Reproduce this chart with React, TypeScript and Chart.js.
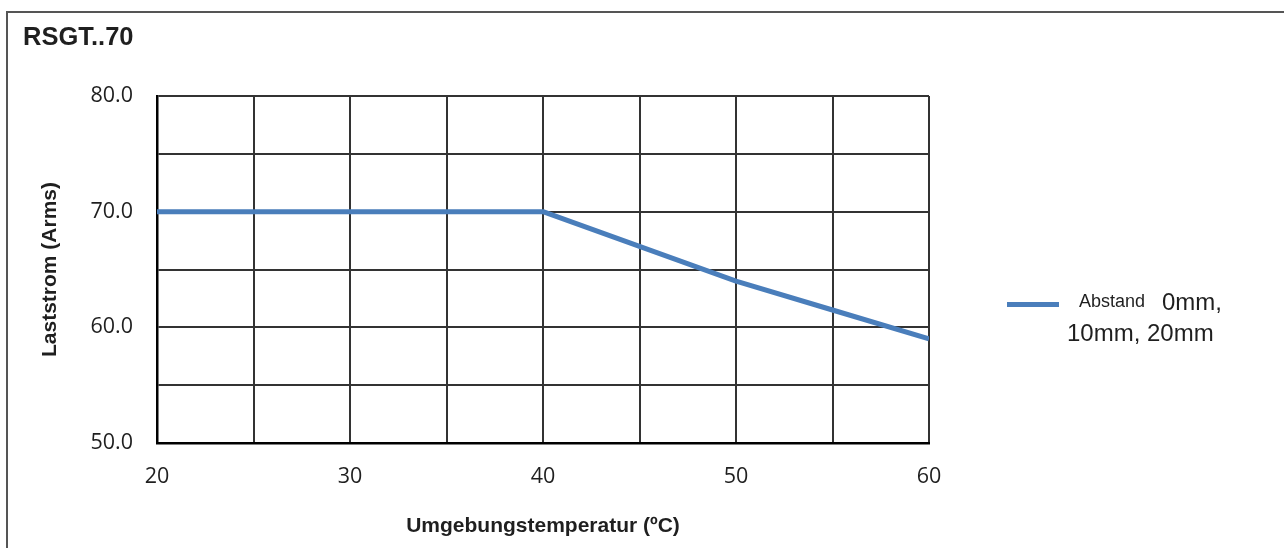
import React, { useEffect, useRef } from "react";
import { Chart, registerables } from "chart.js";

Chart.register(...registerables);

const chartTitle = "RSGT..70";
const xAxisTitle = "Umgebungstemperatur (ºC)";
const yAxisTitle = "Laststrom (Arms)";
const legendSmall = "Abstand";
const legendLine1 = "0mm,";
const legendLine2 = "10mm, 20mm";

const temperatures = [20, 25, 30, 35, 40, 45, 50, 55, 60];
const loadCurrent = [70, 70, 70, 70, 70, 67, 64, 61.5, 59];

const xMin = 20;
const xMax = 60;
const yMin = 50;
const yMax = 80;

const lineColor = "#4a7ebb";
const textColor = "#1f1f1f";
const sansBold = "'Liberation Sans', Arial, sans-serif";
const tickFamily = "'Open Sans', sans-serif";

export default function App() {
  const canvasRef = useRef<HTMLCanvasElement | null>(null);

  useEffect(() => {
    const canvas = canvasRef.current;
    if (!canvas) return;
    const chart = new Chart(canvas, {
      type: "line",
      data: {
        datasets: [
          {
            label: legendSmall + " " + legendLine1 + " " + legendLine2,
            data: temperatures.map((t, i) => ({ x: t, y: loadCurrent[i] })),
            borderColor: lineColor,
            backgroundColor: lineColor,
            borderWidth: 5,
            pointRadius: 0,
            tension: 0,
            borderCapStyle: "butt",
            borderJoinStyle: "round",
          },
        ],
      },
      options: {
        responsive: false,
        animation: false,
        devicePixelRatio: 1,
        layout: { padding: { top: 96, right: 355, bottom: 0, left: 0 } },
        plugins: {
          legend: { display: false },
          tooltip: { enabled: false },
          title: { display: false },
        },
        scales: {
          x: {
            type: "linear",
            min: xMin,
            max: xMax,
            afterFit: (scale: any) => {
              scale.height = 105;
            },
            grid: { color: "#333", lineWidth: 2, drawTicks: false },
            border: { display: true, color: "#000", width: 2.5 },
            ticks: {
              stepSize: 5,
              autoSkip: false,
              maxRotation: 0,
              padding: 21,
              color: textColor,
              font: { family: tickFamily, size: 21.5 },
              callback: (v: any) => (Number(v) % 10 === 0 ? String(v) : ""),
            },
            title: {
              display: true,
              text: xAxisTitle,
              color: textColor,
              font: { family: sansBold, size: 21, weight: "bold" },
              padding: { top: 0, bottom: 9 },
            },
          },
          y: {
            type: "linear",
            min: yMin,
            max: yMax,
            afterFit: (scale: any) => {
              scale.width = 157;
            },
            grid: { color: "#333", lineWidth: 2, drawTicks: false },
            border: { display: true, color: "#000", width: 2.5 },
            ticks: {
              stepSize: 5,
              padding: 24,
              color: textColor,
              font: { family: tickFamily, size: 21.5 },
              callback: (v: any) => (Number(v) % 10 === 0 ? Number(v).toFixed(1) : ""),
            },
            title: {
              display: true,
              text: yAxisTitle,
              color: textColor,
              font: { family: sansBold, size: 21, weight: "bold" },
              padding: { top: 38, bottom: 0 },
            },
          },
        },
      },
    });
    return () => chart.destroy();
  }, []);

  const textStyle = (left: number, top: number, size: number, bold = false): React.CSSProperties => ({
    position: "absolute",
    left,
    top,
    fontFamily: sansBold,
    fontSize: size,
    lineHeight: size + "px",
    fontWeight: bold ? "bold" : "normal",
    color: textColor,
    whiteSpace: "nowrap",
  });

  return (
    <div
      style={{
        position: "absolute",
        left: 0,
        top: 0,
        width: 1284,
        height: 548,
        overflow: "hidden",
        background: "#fff",
      }}
    >
      <div
        style={{
          position: "absolute",
          left: 6,
          top: 11,
          width: 1400,
          height: 700,
          borderTop: "2px solid #555",
          borderLeft: "2px solid #555",
        }}
      />
      <canvas
        ref={canvasRef}
        width={1284}
        height={548}
        style={{ position: "absolute", left: 0, top: 0, width: 1284, height: 548 }}
      />
      <div style={textStyle(23, 24.4, 25.5, true)}>{chartTitle}</div>
      <div
        style={{
          position: "absolute",
          left: 1007,
          top: 302,
          width: 52,
          height: 5,
          background: lineColor,
        }}
      />
      <div style={textStyle(1079, 292, 18)}>{legendSmall}</div>
      <div style={textStyle(1162, 290.4, 24)}>{legendLine1}</div>
      <div style={textStyle(1067, 321.4, 24)}>{legendLine2}</div>
    </div>
  );
}
